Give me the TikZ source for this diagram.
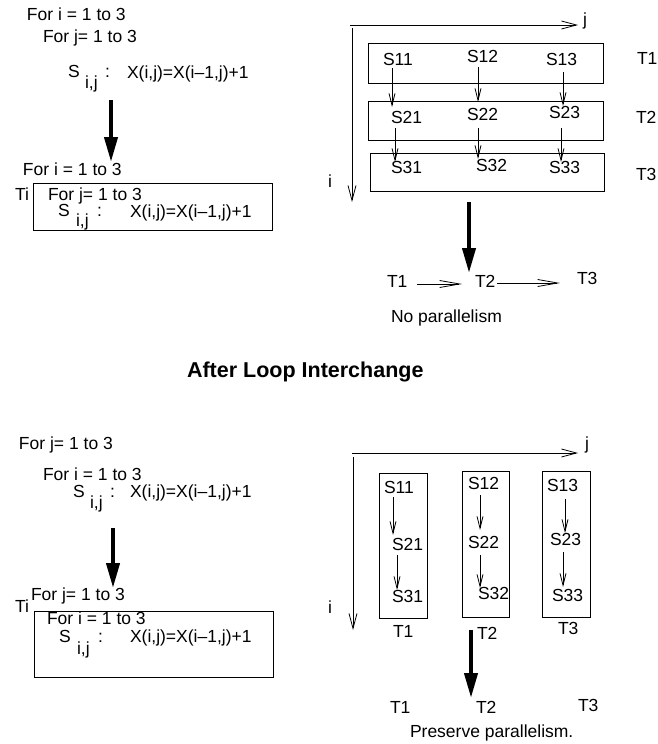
\documentclass[tikz,border=0pt]{standalone}
\usepackage{fontspec}
\setmainfont{Liberation Sans}
\usetikzlibrary{arrows.meta}
\begin{document}
\begin{tikzpicture}[x=1pt,y=-1pt,
  txt/.style={inner sep=0pt, outer sep=0pt, anchor=base west, font=\fontsize{17.5}{20}\selectfont},
  ttl/.style={inner sep=0pt, outer sep=0pt, anchor=base west, font=\fontsize{21.5}{24}\selectfont\bfseries},
  frame/.style={draw, line width=0.8pt, inner sep=0pt, outer sep=0pt},
  dep/.style={line width=0.8pt, -{Straight Barb[length=12pt,width=6pt,line width=0.8pt]}},
  axis/.style={line width=0.8pt, -{Straight Barb[length=15pt,width=8pt,line width=0.8pt]}},
  tarr/.style={line width=0.8pt, -{Straight Barb[length=20pt,width=7pt,line width=0.8pt]}},
  thick arr/.style={line width=4pt, -{Triangle[length=25pt,width=13pt]}}]
\useasboundingbox (0,0) rectangle (657,744);

% ---------------- top left ----------------
\node[txt] (tA1) at (27,20) {For i = 1 to 3};
\node[txt] (tA2) at (43,42) {For j= 1 to 3};
\node[txt] (sA) at (68,77) {S};
\node[txt] (sAsub) at (85,88) {i,j};
\node[txt] (sAcol) at (105,77) {:};
\node[txt] (eA) at (127,78) {X(i,j)=X(i–1,j)+1};
\node[txt] (tA3) at (23,175) {For i = 1 to 3};
\node[frame, minimum width=239pt, minimum height=47pt] (boxA) at (152.5,206.5) {};
\node[txt] (TiA) at (15,200) {Ti};
\node[txt] (tA4) at (48,200) {For j= 1 to 3};
\node[txt] (sB) at (58,216) {S};
\node[txt] (sBsub) at (76,226) {i,j};
\node[txt] (sBcol) at (97,216) {:};
\node[txt] (eB) at (130,217) {X(i,j)=X(i–1,j)+1};
\draw[thick arr] ([xshift=-16pt,yshift=-22pt]eA.base west) -- ([xshift=88pt,yshift=13pt]tA3.base west);

% ---------------- top right ----------------
\coordinate (hA0) at (350,25); \coordinate (hA1) at (578,25);
\coordinate (vA0) at (352,28); \coordinate (vA1) at (352,202);
\draw[axis] (hA0) -- (hA1);
\draw[axis] (vA0) -- (vA1);
\node[txt] (jA) at (583,25) {j};
\node[txt] (iA) at (328,187) {i};
\node[frame, minimum width=235pt, minimum height=40pt] (rT1) at (485.5,63) {};
\node[frame, minimum width=235pt, minimum height=39pt] (rT2) at (485.5,120.5) {};
\node[frame, minimum width=234pt, minimum height=38pt] (rT3) at (487,172) {};
\node[txt] (a11) at (383,65) {S11};
\node[txt] (a12) at (467,62) {S12};
\node[txt] (a13) at (546,65) {S13};
\node[txt] (a21) at (391,123) {S21};
\node[txt] (a22) at (467,120) {S22};
\node[txt] (a23) at (549,118) {S23};
\node[txt] (a31) at (391,173) {S31};
\node[txt] (a32) at (476,171) {S32};
\node[txt] (a33) at (549,173) {S33};
\node[txt] (lT1) at (637,64) {T1};
\node[txt] (lT2) at (636,123) {T2};
\node[txt] (lT3) at (636,180) {T3};
\draw[dep] ([xshift=9pt,yshift=-3pt]a11.base west) -- ([xshift=1pt,yshift=16pt]a21.base west);
\draw[dep] ([xshift=11pt,yshift=-5pt]a12.base west) -- ([xshift=11pt,yshift=18pt]a22.base west);
\draw[dep] ([xshift=17pt,yshift=-7pt]a13.base west) -- ([xshift=14pt,yshift=12pt]a23.base west);
\draw[dep] ([xshift=4pt,yshift=-5pt]a21.base west) -- ([xshift=4pt,yshift=11pt]a31.base west);
\draw[dep] ([xshift=11pt,yshift=-8pt]a22.base west) -- ([xshift=2pt,yshift=12pt]a32.base west);
\draw[dep] ([xshift=12pt,yshift=-10pt]a23.base west) -- ([xshift=12pt,yshift=11pt]a33.base west);
\node[txt] (bT1) at (387,287) {T1};
\node[txt] (bT2) at (475,287) {T2};
\node[txt] (bT3) at (577,284) {T3};
\draw[thick arr] ([xshift=-18pt,yshift=-11pt]rT3.south) -- ([xshift=-6pt,yshift=14pt]bT2.base west);
\draw[tarr] ([xshift=10pt,yshift=3pt]bT1.base east) -- ([xshift=-13pt,yshift=3pt]bT2.base west);
\draw[tarr] ([xshift=2pt,yshift=4pt]bT2.base east) -- ([xshift=-17pt,yshift=1pt]bT3.base west);
\node[txt] (noP) at (391,322) {No parallelism};

% ---------------- title ----------------
\node[ttl] (title) at (187,377) {After Loop Interchange};

% ---------------- bottom left ----------------
\node[txt] (tC1) at (19,449) {For j= 1 to 3};
\node[txt] (tC2) at (43,480) {For i = 1 to 3};
\node[txt] (sC) at (73,497) {S};
\node[txt] (sCsub) at (90,508) {i,j};
\node[txt] (sCcol) at (110,497) {:};
\node[txt] (eC) at (130,497) {X(i,j)=X(i–1,j)+1};
\node[txt] (tC3) at (31,600) {For j= 1 to 3};
\node[frame, minimum width=239pt, minimum height=66pt] (boxC) at (153.5,644) {};
\node[txt] (TiC) at (15,612) {Ti};
\node[txt] (tC4) at (47,624) {For i = 1 to 3};
\node[txt] (sD) at (59,642) {S};
\node[txt] (sDsub) at (77,654) {i,j};
\node[txt] (sDcol) at (98,642) {:};
\node[txt] (eD) at (130,642) {X(i,j)=X(i–1,j)+1};
\draw[thick arr] ([xshift=-17pt,yshift=-31pt]eC.base west) -- ([xshift=82pt,yshift=12pt]tC3.base west);

% ---------------- bottom right ----------------
\coordinate (hC0) at (352,453); \coordinate (hC1) at (578,453);
\coordinate (vC0) at (353,457); \coordinate (vC1) at (353,630);
\draw[axis] (hC0) -- (hC1);
\draw[axis] (vC0) -- (vC1);
\node[txt] (jC) at (585,449) {j};
\node[txt] (iC) at (328,613) {i};
\node[frame, minimum width=48pt, minimum height=145pt] (rB1) at (403,545.5) {};
\node[frame, minimum width=47pt, minimum height=146pt] (rB2) at (485.5,544) {};
\node[frame, minimum width=48pt, minimum height=146pt] (rB3) at (566,544) {};
\node[txt] (c11) at (384,493) {S11};
\node[txt] (c21) at (392,550) {S21};
\node[txt] (c31) at (392,602) {S31};
\node[txt] (c12) at (468,489) {S12};
\node[txt] (c22) at (468,548) {S22};
\node[txt] (c32) at (478,599) {S32};
\node[txt] (c13) at (547,491) {S13};
\node[txt] (c23) at (550,545) {S23};
\node[txt] (c33) at (552,601) {S33};
\draw[dep] ([xshift=9pt,yshift=-4pt]c11.base west) -- ([xshift=1pt,yshift=15pt]c21.base west);
\draw[dep] ([xshift=5pt,yshift=-5pt]c21.base west) -- ([xshift=5pt,yshift=12pt]c31.base west);
\draw[dep] ([xshift=12pt,yshift=-6pt]c12.base west) -- ([xshift=12pt,yshift=18pt]c22.base west);
\draw[dep] ([xshift=12pt,yshift=-7pt]c22.base west) -- ([xshift=2pt,yshift=11pt]c32.base west);
\draw[dep] ([xshift=18pt,yshift=-8pt]c13.base west) -- ([xshift=15pt,yshift=12pt]c23.base west);
\draw[dep] ([xshift=13pt,yshift=-7pt]c23.base west) -- ([xshift=11pt,yshift=14pt]c33.base west);
\node[txt] (uT1) at (393,637) {T1};
\node[txt] (uT2) at (477,639) {T2};
\node[txt] (uT3) at (558,634) {T3};
\node[txt] (dT1) at (390,713) {T1};
\node[txt] (dT2) at (476,713) {T2};
\node[txt] (dT3) at (578,711) {T3};
\draw[thick arr] ([xshift=-14.5pt,yshift=-13pt]rB2.south) -- ([xshift=-5pt,yshift=15pt]dT2.base west);
\node[txt] (presP) at (410,737) {Preserve parallelism.};
\end{tikzpicture}
\end{document}
